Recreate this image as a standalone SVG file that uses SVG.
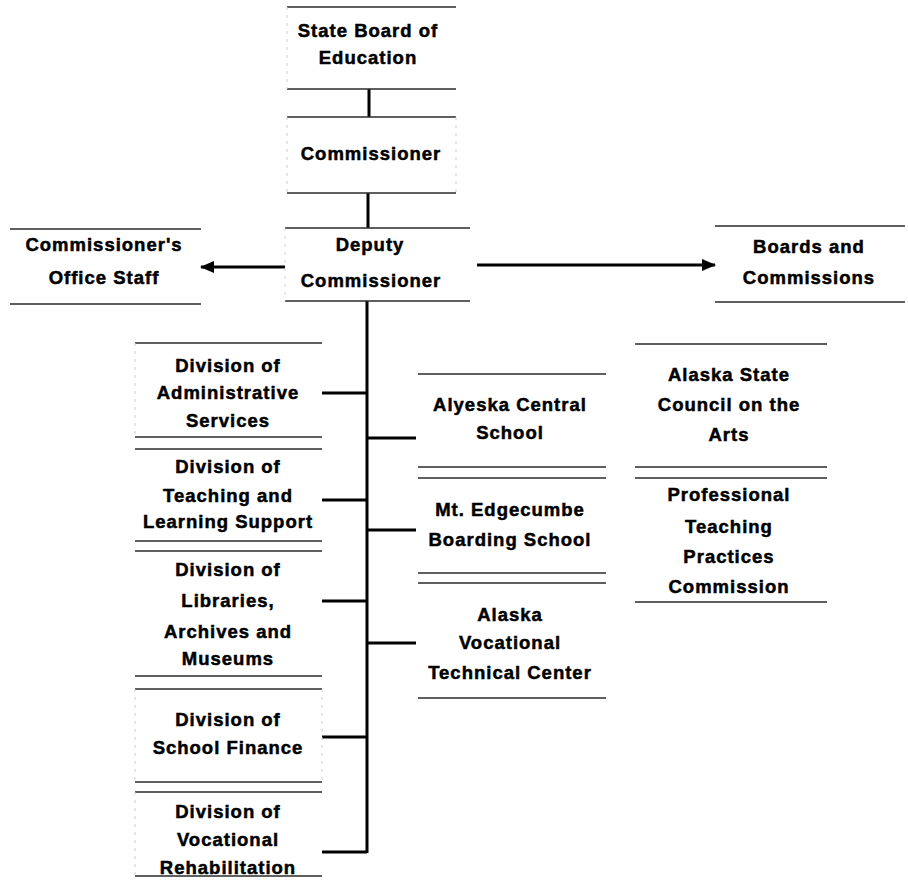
<svg xmlns="http://www.w3.org/2000/svg" width="908" height="889" viewBox="0 0 908 889">
<style>
.bg{fill:#fff}
.hl{stroke:#2a2a2a;stroke-width:1.6;fill:none}
.sl{stroke:#d0d0d0;stroke-width:1;stroke-dasharray:3 5;fill:none}
.c{stroke:#000;stroke-width:3;fill:none}
text{font-family:"Liberation Sans",Arial,sans-serif;font-weight:bold;font-size:18.5px;letter-spacing:1px;fill:#000;stroke:#000;stroke-width:0.5px;text-anchor:middle}
</style>
<defs>
<marker id="ah" viewBox="0 0 14 12" refX="13" refY="6" markerWidth="14" markerHeight="12" markerUnits="userSpaceOnUse" orient="auto">
<path d="M0,0 L14,6 L0,12 Z" fill="#000"/>
</marker>
</defs>
<rect class="bg" width="908" height="889"/>

<g id="connectors">
<line class="c" x1="369" y1="89" x2="369" y2="117"/>
<line class="c" x1="368" y1="193" x2="368" y2="228"/>
<line class="c" x1="367" y1="301" x2="367" y2="853"/>
<line class="c" x1="285" y1="267" x2="201" y2="267" marker-end="url(#ah)"/>
<line class="c" x1="477" y1="265" x2="715" y2="265" marker-end="url(#ah)"/>
<line class="c" x1="322" y1="393" x2="367" y2="393"/>
<line class="c" x1="322" y1="500" x2="367" y2="500"/>
<line class="c" x1="322" y1="601" x2="367" y2="601"/>
<line class="c" x1="322" y1="737" x2="367" y2="737"/>
<line class="c" x1="322" y1="852" x2="367" y2="852"/>
<line class="c" x1="367" y1="438" x2="416" y2="438"/>
<line class="c" x1="367" y1="530" x2="416" y2="530"/>
<line class="c" x1="367" y1="643" x2="416" y2="643"/>
</g>

<g id="state-board">
<line class="hl" x1="287" y1="7" x2="456" y2="7"/>
<line class="hl" x1="287" y1="89" x2="456" y2="89"/>
<line class="sl" x1="287" y1="7" x2="287" y2="89"/>
<text x="368" y="37">State Board of</text>
<text x="368" y="64">Education</text>
</g>

<g id="commissioner">
<line class="hl" x1="287" y1="117" x2="456" y2="117"/>
<line class="hl" x1="287" y1="193" x2="456" y2="193"/>
<line class="sl" x1="287" y1="117" x2="287" y2="193"/>
<line class="sl" x1="456" y1="117" x2="456" y2="193"/>
<text x="371" y="160">Commissioner</text>
</g>

<g id="deputy">
<line class="hl" x1="285" y1="228" x2="470" y2="228"/>
<line class="hl" x1="285" y1="301" x2="470" y2="301"/>
<line class="sl" x1="285" y1="228" x2="285" y2="301"/>
<text x="370" y="251">Deputy</text>
<text x="371" y="287">Commissioner</text>
</g>

<g id="office-staff">
<line class="hl" x1="10" y1="229" x2="201" y2="229"/>
<line class="hl" x1="10" y1="304" x2="201" y2="304"/>
<text x="104" y="251">Commissioner's</text>
<text x="104" y="284">Office Staff</text>
</g>

<g id="boards">
<line class="hl" x1="715" y1="226" x2="905" y2="226"/>
<line class="hl" x1="715" y1="302" x2="905" y2="302"/>
<text x="809" y="253">Boards and</text>
<text x="809" y="284">Commissions</text>
</g>

<g id="div-admin">
<line class="hl" x1="135" y1="343" x2="322" y2="343"/>
<line class="hl" x1="135" y1="437" x2="322" y2="437"/>
<line class="sl" x1="135" y1="343" x2="135" y2="437"/>
<text x="228" y="372">Division of</text>
<text x="228" y="399">Administrative</text>
<text x="228" y="427">Services</text>
</g>

<g id="div-teaching">
<line class="hl" x1="135" y1="449" x2="322" y2="449"/>
<line class="hl" x1="135" y1="541" x2="322" y2="541"/>
<text x="228" y="473">Division of</text>
<text x="228" y="502">Teaching and</text>
<text x="228" y="528">Learning Support</text>
</g>

<g id="div-libraries">
<line class="hl" x1="135" y1="551" x2="322" y2="551"/>
<line class="hl" x1="135" y1="676" x2="322" y2="676"/>
<text x="228" y="576">Division of</text>
<text x="228" y="607">Libraries,</text>
<text x="228" y="638">Archives and</text>
<text x="228" y="665">Museums</text>
</g>

<g id="div-finance">
<line class="hl" x1="135" y1="689" x2="322" y2="689"/>
<line class="hl" x1="135" y1="782" x2="322" y2="782"/>
<line class="sl" x1="135" y1="689" x2="135" y2="782"/>
<line class="sl" x1="322" y1="689" x2="322" y2="782"/>
<text x="228" y="726">Division of</text>
<text x="228" y="754">School Finance</text>
</g>

<g id="div-vocrehab">
<line class="hl" x1="135" y1="792" x2="322" y2="792"/>
<line class="hl" x1="135" y1="876" x2="322" y2="876"/>
<line class="sl" x1="135" y1="792" x2="135" y2="876"/>
<text x="228" y="818">Division of</text>
<text x="228" y="846">Vocational</text>
<text x="228" y="874">Rehabilitation</text>
</g>

<g id="alyeska">
<line class="hl" x1="418" y1="374" x2="606" y2="374"/>
<line class="hl" x1="418" y1="467" x2="606" y2="467"/>
<text x="510" y="411">Alyeska Central</text>
<text x="510" y="439">School</text>
</g>

<g id="edgecumbe">
<line class="hl" x1="418" y1="478" x2="606" y2="478"/>
<line class="hl" x1="418" y1="573" x2="606" y2="573"/>
<text x="510" y="516">Mt. Edgecumbe</text>
<text x="510" y="546">Boarding School</text>
</g>

<g id="avtec">
<line class="hl" x1="418" y1="583" x2="606" y2="583"/>
<line class="hl" x1="418" y1="698" x2="606" y2="698"/>
<text x="510" y="621">Alaska</text>
<text x="510" y="649">Vocational</text>
<text x="510" y="679">Technical Center</text>
</g>

<g id="arts-council">
<line class="hl" x1="635" y1="344" x2="827" y2="344"/>
<line class="hl" x1="635" y1="467" x2="827" y2="467"/>
<text x="729" y="381">Alaska State</text>
<text x="729" y="411">Council on the</text>
<text x="729" y="441">Arts</text>
</g>

<g id="ptpc">
<line class="hl" x1="635" y1="478" x2="827" y2="478"/>
<line class="hl" x1="635" y1="602" x2="827" y2="602"/>
<text x="729" y="501">Professional</text>
<text x="729" y="533">Teaching</text>
<text x="729" y="563">Practices</text>
<text x="729" y="593">Commission</text>
</g>
</svg>
